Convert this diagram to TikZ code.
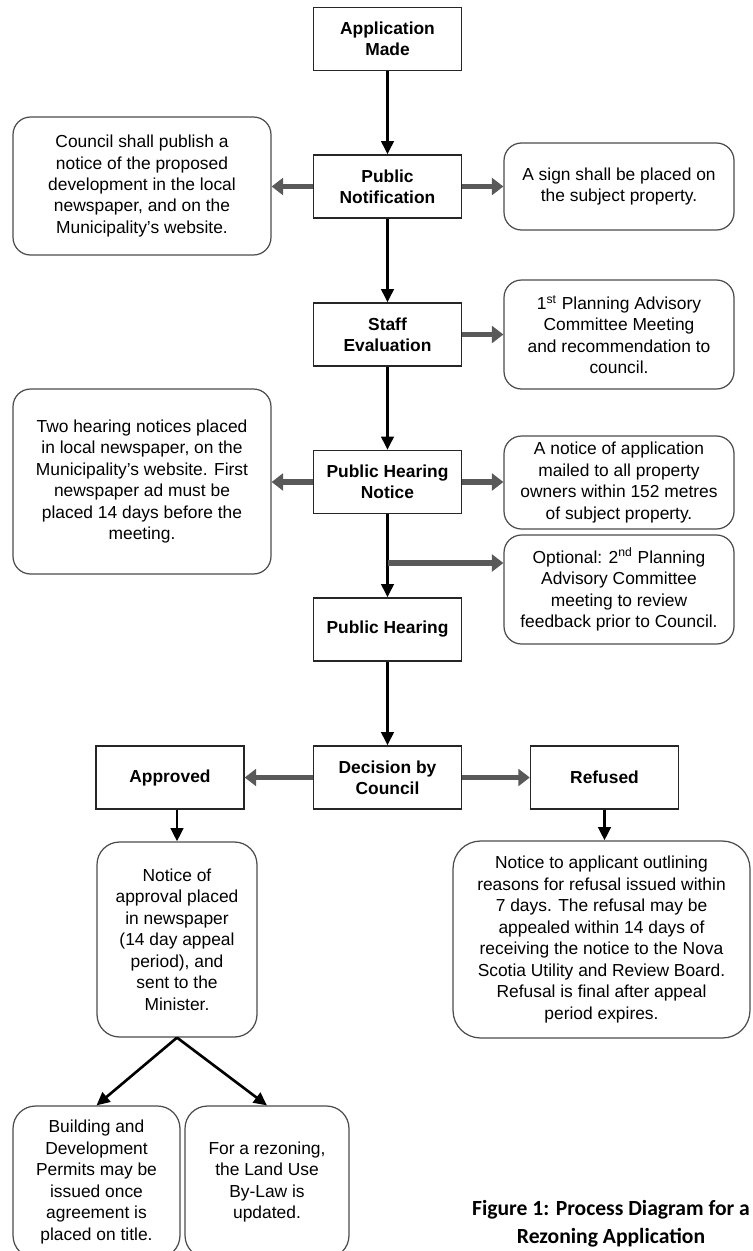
\documentclass[tikz,border=0pt]{standalone}
\usepackage{fontspec}
\setmainfont{Liberation Sans}
\newfontfamily\capfont{Carlito}
\usetikzlibrary{arrows.meta}

\begin{document}
\begin{tikzpicture}[x=0.02cm, y=-0.02cm,
	font=\fontsize{9.9}{12.2}\selectfont,
	stagebox/.style={draw=black!85, line width=0.8pt, font=\fontsize{9.9}{12.2}\selectfont\bfseries, align=center, inner sep=0pt, minimum width=2.96cm, minimum height=1.26cm},
	notebox/.style={draw=black!70, line width=0.7pt, rounded corners=0.35cm, align=center, inner sep=0pt, minimum width=4.6cm},
	mainarrow/.style={line width=1.7pt, -{Triangle[width=7pt,length=7.5pt]}},
	sidearrow/.style={line width=3pt, black!65, -{Triangle[width=9.5pt,length=6.5pt]}}]
	%%%%% START %%%%%
	
	\useasboundingbox (0, 0) rectangle (752, 1251);
	
	% main column
	\node[stagebox] (app) at (387.5, 39) {Application\\Made};
	\node[stagebox] (pubnot) at (387.5, 186.5) {Public\\Notification};
	\node[stagebox] (staff) at (387.5, 334.5) {Staff\\Evaluation};
	\node[stagebox] (phn) at (387.5, 482) {Public Hearing\\Notice};
	\node[stagebox] (ph) at (387.5, 629.5) {Public Hearing};
	\node[stagebox] (decision) at (387.5, 777.5) {Decision by\\Council};
	\node[stagebox] (approved) at (170, 777.5) {Approved};
	\node[stagebox] (refused) at (604.5, 777.5) {Refused};
	
	% side notes
	\node[notebox, minimum width=5.16cm, minimum height=2.76cm] (council) at (142, 186) {Council shall publish a\\notice of the proposed\\development in the local\\newspaper, and on the\\Municipality's website.};
	\node[notebox, minimum height=1.74cm] (sign) at (619, 186.5) {A sign shall be placed on\\the subject property.};
	\node[notebox, minimum height=2.18cm] (pac) at (619, 334.5) {1\textsuperscript{st} Planning Advisory\\Committee Meeting\\and recommendation to\\council.};
	\node[notebox, minimum width=5.16cm, minimum height=3.7cm] (hearings) at (142, 481.5) {Two hearing notices placed\\in local newspaper, on the\\Municipality's website. First\\newspaper ad must be\\placed 14 days before the\\meeting.};
	\node[notebox, minimum height=1.86cm] (mailout) at (619, 482.5) {A notice of application\\mailed to all property\\owners within 152 metres\\of subject property.};
	\node[notebox, minimum height=2.18cm] (optional) at (619, 589.5) {Optional: 2\textsuperscript{nd} Planning\\Advisory Committee\\meeting to review\\feedback prior to Council.};
	\node[notebox, minimum width=3.2cm, minimum height=3.9cm, rounded corners=0.45cm] (approval) at (177, 939.5) {Notice of\\approval placed\\in newspaper\\(14 day appeal\\period), and\\sent to the\\Minister.};
	\node[notebox, minimum width=5.94cm, minimum height=3.94cm, rounded corners=0.55cm] (refusal) at (601.5, 939.5) {Notice to applicant outlining\\reasons for refusal issued within\\7 days. The refusal may be\\appealed within 14 days of\\receiving the notice to the Nova\\Scotia Utility and Review Board.\\Refusal is final after appeal\\period expires.};
	\node[notebox, minimum width=3.34cm, minimum height=3.04cm, rounded corners=0.45cm] (permits) at (96.5, 1182) {Building and\\Development\\Permits may be\\issued once\\agreement is\\placed on title.};
	\node[notebox, minimum width=3.28cm, minimum height=3.04cm, rounded corners=0.45cm] (bylaw) at (267, 1182) {For a rezoning,\\the Land Use\\By-Law is\\updated.};
	
	\node[font=\capfont\bfseries\fontsize{12.3}{15.9}\selectfont, align=center] (caption) at (611, 1224) {Figure 1: Process Diagram for a\\Rezoning Application};
	
	% arrows
	\draw[mainarrow] (app) -- (pubnot);
	\draw[sidearrow] (pubnot.west) -- (pubnot.west -| council.east);
	\draw[sidearrow] (pubnot.east) -- (pubnot.east -| sign.west);
	\draw[mainarrow] (pubnot) -- (staff);
	\draw[sidearrow] (staff.east) -- (staff.east -| pac.west);
	\draw[mainarrow] (staff) -- (phn);
	\draw[sidearrow] (phn.west) -- (phn.west -| hearings.east);
	\draw[sidearrow] (phn.east) -- (phn.east -| mailout.west);
	\draw[mainarrow] (phn) -- (ph);
	\coordinate (fork) at (387.5, 563);
	\draw[sidearrow] (fork) -- (fork -| optional.west);
	\draw[mainarrow] (ph) -- (decision);
	\draw[sidearrow] (decision.west) -- (approved.east);
	\draw[sidearrow] (decision.east) -- (refused.west);
	\draw[mainarrow] (approved.south -| approval.north) -- (approval.north);
	\draw[mainarrow] (refused.south) -- (refused.south |- refusal.north);
	\draw[mainarrow, line width=1.5pt] (approval.south) -- (permits.north);
	\draw[mainarrow, line width=1.5pt] (approval.south) -- (bylaw.north);
	
	%%%%% END %%%%%
\end{tikzpicture}
\end{document}
